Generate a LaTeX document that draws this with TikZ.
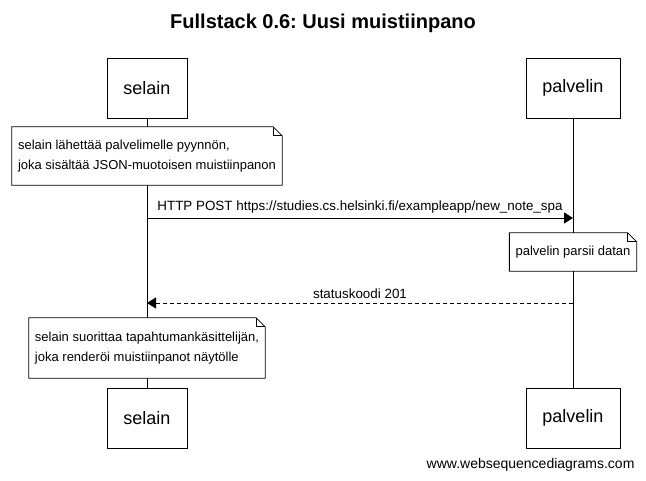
\documentclass[tikz,border=0pt]{standalone}
\usepackage{fontspec}
\setmainfont{Liberation Sans}
\usepackage{tikz}
\usetikzlibrary{arrows.meta, positioning, calc}
\frenchspacing

\tikzset{
    actor/.style={draw=black, fill=white, minimum height=60pt, inner xsep=16.5pt, font=\fontsize{18}{22}\selectfont},
    notebox/.style={fill=white, inner xsep=6pt, inner ysep=0pt, align=left, font=\fontsize{13}{20}\selectfont},
    lifeline/.style={draw=black, line width=0.8pt},
    msg/.style={-{Triangle[length=9pt, width=11pt]}, line width=0.8pt},
    reply/.style={msg, dash pattern=on 4pt off 3pt},
    msglabel/.style={font=\fontsize{13.4}{15}\selectfont, above=1pt}
}

% dog-ear outline round a note node
\newcommand{\foldnote}[1]{%
    \draw[line width=0.8pt] (#1.north west) -- ($(#1.north east)+(-9pt,0)$) -- ($(#1.north east)+(0,-9pt)$) -- (#1.south east) -- (#1.south west) -- cycle;
    \draw[line width=0.6pt] ($(#1.north east)+(-9pt,0)$) -- ($(#1.north east)+(-9pt,-9pt)$) -- ($(#1.north east)+(0,-9pt)$);
}

\begin{document}
\begin{tikzpicture}[x=1pt, y=1pt]
    \useasboundingbox (0,0) rectangle (646,-481);

    % --- Title ---
    \node[font=\fontsize{20}{24}\selectfont\bfseries] (title) at (323,-23) {Fullstack 0.6: Uusi muistiinpano};

    % --- Participants ---
    \node[actor] (selainTop) at (147,-88) {selain};
    \node[actor] (palvelinTop) at (573,-88) {palvelin};
    \node[actor] (selainBot) at (147,-418) {selain};
    \node[actor] (palvelinBot) at (573,-418) {palvelin};

    % Lifelines
    \draw[lifeline] (selainTop.south) -- (selainBot.north);
    \draw[lifeline] (palvelinTop.south) -- (palvelinBot.north);

    % --- Notes ---
    \node[notebox, minimum height=58pt] (noteSend) at (147,-156) {selain lähettää palvelimelle pyynnön,\\joka sisältää JSON-muotoisen muistiinpanon};
    \foldnote{noteSend}

    \node[notebox, minimum height=38pt] (noteParse) at (573,-252) {palvelin parsii datan};
    \foldnote{noteParse}

    \node[notebox, minimum height=60pt] (noteRender) at (147,-348) {selain suorittaa tapahtumankäsittelijän,\\joka renderöi muistiinpanot näytölle};
    \foldnote{noteRender}

    % --- Messages ---
    \coordinate (postFrom) at (147,-218);
    \coordinate (postTo) at (573,-218);
    \draw[msg] (postFrom) -- node[msglabel] {HTTP POST https://studies.cs.helsinki.fi/exampleapp/new\_note\_spa} (postTo);

    \coordinate (okFrom) at (573,-303);
    \coordinate (okTo) at (147,-303);
    \draw[reply] (okFrom) -- node[msglabel] {statuskoodi 201} (okTo);

    % --- Footer ---
    \node[font=\fontsize{14}{16}\selectfont, anchor=east] (footer) at (638,-465) {www.websequencediagrams.com};
\end{tikzpicture}
\end{document}
